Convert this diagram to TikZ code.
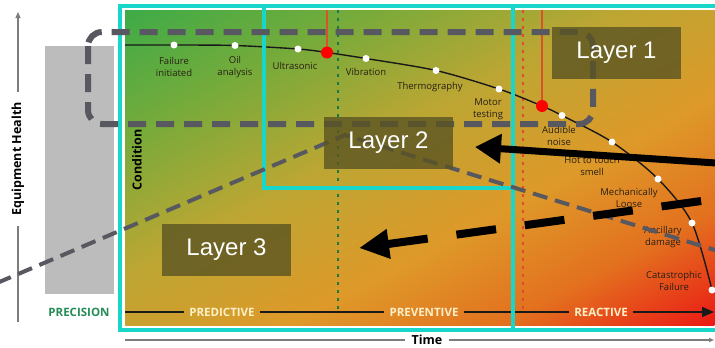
\documentclass[tikz,border=0pt]{standalone}
\usepackage{fontspec}
\setmainfont{Open Sans}
\newfontfamily\layerfont{Liberation Sans}
\usetikzlibrary{arrows.meta}

\definecolor{cyanframe}{RGB}{24,214,202}
\definecolor{dashgray}{RGB}{88,88,96}
\definecolor{precgray}{RGB}{188,188,188}
\definecolor{precgreen}{RGB}{36,140,86}
\definecolor{stagecream}{RGB}{252,240,200}
\definecolor{layerfill}{RGB}{90,84,34}
\definecolor{markred}{RGB}{214,84,40}
\definecolor{dotgreen}{RGB}{26,120,70}
\definecolor{dotred}{RGB}{222,74,52}
\definecolor{axisgray}{RGB}{125,125,125}
\definecolor{labeltext}{RGB}{40,32,20}

% health gradient along one axis: green -> olive -> orange -> red
% (the 25bp..75bp span is stretched over the shaded path)
\pgfdeclarehorizontalshading{healthshade}{100bp}{%
  rgb(0bp)=(0.24,0.67,0.28);
  rgb(25bp)=(0.24,0.67,0.28);
  rgb(35bp)=(0.46,0.67,0.23);
  rgb(46bp)=(0.74,0.65,0.20);
  rgb(57bp)=(0.87,0.60,0.16);
  rgb(66bp)=(0.89,0.44,0.12);
  rgb(75bp)=(0.92,0.10,0.08);
  rgb(100bp)=(0.92,0.10,0.08)}

\begin{document}
\begin{tikzpicture}[x=1pt,y=-1pt,
  lbl/.style={font=\fontsize{9.5}{12}\selectfont, text=labeltext, align=center, inner sep=0pt},
  stage/.style={font=\bfseries\fontsize{11.5}{12}\selectfont, text=stagecream, inner xsep=5pt, inner ysep=2pt},
  axislabel/.style={font=\bfseries\fontsize{12.5}{13}\selectfont, text=black},
  layerbox/.style={fill=layerfill, fill opacity=0.8, text opacity=1, text=white,
    font=\layerfont\fontsize{24}{24}\selectfont, minimum width=129pt, minimum height=52pt, inner sep=0pt},
  pfdot/.style={circle, fill=white, inner sep=0pt, minimum size=7pt},
  pfhit/.style={circle, fill=red, inner sep=0pt, minimum size=12pt},
  frame/.style={draw=cyanframe, line width=4pt},
  bigdash/.style={draw=dashgray, line width=6pt, dash pattern=on 18pt off 10pt},
  thindash/.style={draw=dashgray, line width=4pt, dash pattern=on 15pt off 8pt},
  markline/.style={draw=markred, line width=1.2pt},
]
\useasboundingbox (0,0) rectangle (715,348);
\fill[white] (0,0) rectangle (715,348);

% precision column
\fill[precgray] (45,46) rectangle (114,294);
\node[font=\bfseries\fontsize{11.5}{12}\selectfont, text=precgreen] (precision) at (79,312) {PRECISION};

% condition panel: gradient runs across the panel's falling diagonal
\begin{scope}
  \clip (125,10) rectangle (715,325);
  \shade[shading=healthshade, transform canvas={shift={(420,167.5)}, rotate=-61.9}]
    (-278,-420) rectangle (278,420);
\end{scope}

% P-F curve
\coordinate (c0) at (125,45);
\coordinate (p1) at (174,45);
\coordinate (p2) at (235,45.5);
\coordinate (p3) at (298,49);
\coordinate (h1) at (327,52.5);
\coordinate (p4) at (366,58.5);
\coordinate (p5) at (436,70.5);
\coordinate (p6) at (499,89);
\coordinate (h2) at (542,106);
\coordinate (p7) at (562,115.5);
\coordinate (p8) at (612,142);
\coordinate (p9) at (658,179);
\coordinate (p10) at (692,223);
\coordinate (p11) at (712,290);
\coordinate (panelTop) at (0,10);

% stage boundaries
\draw[dotgreen, line width=1.5pt, dash pattern=on 2.5pt off 5.5pt] (338,10) -- (338,312);
\draw[dotred, line width=1.5pt, dash pattern=on 2.5pt off 5.5pt] (523,10) -- (523,312);
\draw[markline] (h1) -- (h1 |- panelTop);
\draw[markline] (h2) -- (h2 |- panelTop);

\draw[black!90, line width=1.4pt] plot[smooth, tension=0.5] coordinates
  {(c0) (p1) (p2) (p3) (h1) (p4) (p5) (p6) (h2) (p7) (p8) (p9) (p10) (p11)};
\foreach \d in {p1,p2,p3,p4,p5,p6,p7,p8,p9,p10,p11}
  \node[pfdot] (dot-\d) at (\d) {};
\node[pfhit] (hit1) at (h1) {};
\node[pfhit] (hit2) at (h2) {};

% symptom labels
\node[lbl] (fail)   at (174,67)  {Failure\\initiated};
\node[lbl] (oil)    at (235,67)  {Oil\\analysis};
\node[lbl] (ultra)  at (295,66)  {Ultrasonic};
\node[lbl] (vib)    at (366,72)  {Vibration};
\node[lbl] (thermo) at (430,87)  {Thermography};
\node[lbl] (motor)  at (488,109) {Motor\\testing};
\node[lbl] (audio)  at (559,136) {Audible\\noise};
\node[lbl] (hot)    at (592,166) {Hot to touch\\smell};
\node[lbl] (mech)   at (629,198) {Mechanically\\Loose};
\node[lbl] (anc)    at (663,237) {Ancillary\\damage};
\node[lbl] (cat)    at (674,281) {Catastrophic\\Failure};

\node[axislabel, rotate=90] (cond) at (137,160) {Condition};

% maintenance strategy axis
\coordinate (axL) at (125,312);
\coordinate (axR) at (714,312);
\node[stage] (pred)  at (222,312) {PREDICTIVE};
\node[stage] (prev)  at (424,312) {PREVENTIVE};
\node[stage] (react) at (601,312) {REACTIVE};
\draw[black!90, line width=1.8pt] (axL) -- (pred.west);
\draw[black!90, line width=1.8pt] (pred.east) -- (prev.west);
\draw[black!90, line width=1.8pt] (prev.east) -- (react.west);
\draw[black!90, line width=1.8pt, -{Triangle[length=12pt,width=10pt]}] (react.east) -- (axR);

% outer axes
\node[axislabel, inner xsep=6pt] (time) at (427,340) {Time};
\coordinate (tL) at (125,340);
\coordinate (tR) at (714,340);
\draw[axisgray, line width=1.2pt] (tL) -- (time.west);
\draw[axisgray, line width=1.2pt, -{Triangle[length=5pt,width=4pt]}] (time.east) -- (tR);

\node[axislabel, rotate=90, inner xsep=10pt] (health) at (18,159) {Equipment Health};
\coordinate (hB) at (18,322);
\coordinate (hT) at (18,12);
\draw[axisgray, line width=1.2pt] (hB) -- (health.west);
\draw[axisgray, line width=1.2pt, -{Triangle[length=6pt,width=5pt]}] (health.east) -- (hT);

% layer frames
\draw[frame] (716,6) -- (120,6) -- (120,329.5) -- (716,329.5);
\draw[frame] (512.5,6) -- (512.5,329.5);
\draw[frame] (264,6) -- (264,188) -- (512.5,188);

% grouping outlines
\draw[bigdash, rounded corners=14pt] (88,32) rectangle (593,124);
\coordinate (tentL) at (-3,283);
\coordinate (tentTop) at (345,135);
\coordinate (tentR) at (718,251);
\draw[thindash] (tentL) -- (tentTop) -- (tentR);

% layer captions
\node[layerbox] (layer1) at (616.5,53)    {Layer 1};
\node[layerbox] (layer2) at (388.5,142.5) {Layer 2};
\node[layerbox] (layer3) at (226.5,249.5) {Layer 3};

% flow arrows
\coordinate (solidStart) at (716,163);
\coordinate (solidTip) at (475,147);
\draw[black, line width=7pt, -{Triangle[length=26pt,width=28pt]}] (solidStart) -- (solidTip);
\coordinate (dashStart) at (716,199);
\coordinate (dashTip) at (359,248);
\draw[black, line width=8pt, dash pattern=on 40pt off 29pt, dash phase=54pt,
  -{Triangle[length=30pt,width=28pt]}] (dashStart) -- (dashTip);
\end{tikzpicture}
\end{document}
